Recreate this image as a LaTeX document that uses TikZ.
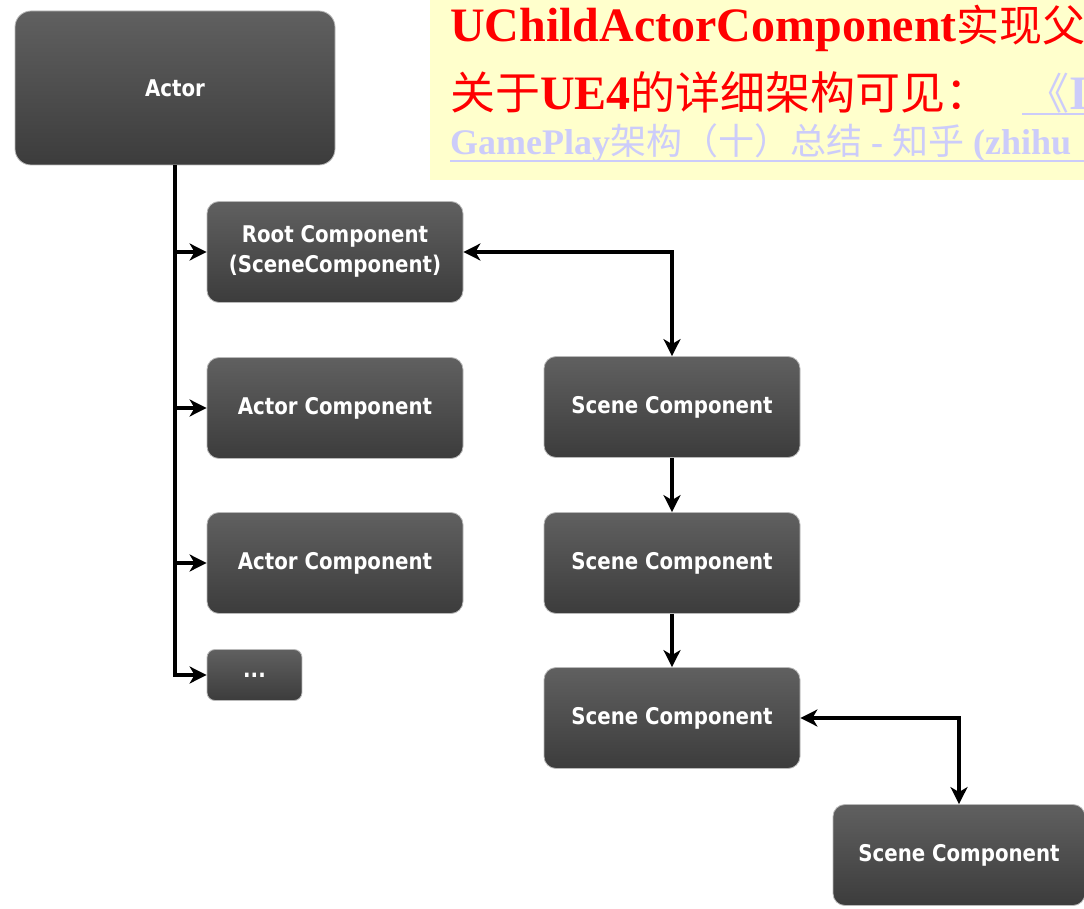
\documentclass[tikz,border=0pt]{standalone}
\usepackage{fontspec}
\setmainfont{Liberation Serif}
\newfontfamily\cjk{Noto Sans CJK SC}
\newfontfamily\lblfont{DejaVu Sans}
\usetikzlibrary{arrows.meta}
\definecolor{boxtop}{RGB}{96,96,96}
\definecolor{boxbot}{RGB}{60,60,60}
\definecolor{notebg}{RGB}{255,255,204}
\definecolor{linkc}{RGB}{204,204,250}
\definecolor{redtxt}{RGB}{255,0,0}
\newcommand\sqz[1]{\scalebox{0.86}[1]{#1}}
\newcommand\cjkA{\cjk\mdseries\fontsize{43}{43}\selectfont}
\newcommand\cjkC{\cjk\mdseries\fontsize{45}{45}\selectfont}
\newcommand\cjkB{\cjk\mdseries\fontsize{36}{36}\selectfont}
\begin{document}
\begin{tikzpicture}[x=1pt,y=-1pt,
  comp/.style={rectangle, rounded corners=12pt, top color=boxtop, bottom color=boxbot,
    draw=gray!55, line width=0.8pt, text=white,
    font=\lblfont\bfseries\fontsize{23}{30}\selectfont, inner sep=0pt, align=center,
    minimum width=256pt, minimum height=101pt},
  tip/.tip={Stealth[length=17pt,width=17pt,inset=5pt]},
  arr/.style={line width=3.4pt, -tip},
  arrr/.style={line width=3.4pt, tip-tip},
  txt/.style={anchor=base west, inner sep=0pt}]
\useasboundingbox (0,0) rectangle (1084,909);
\fill[white] (0,0) rectangle (1084,909);

% note box
\fill[notebg] (430,0) rectangle (1084,180);
\node[txt, text=redtxt] (l1) at (450,42)
  {\fontsize{48}{48}\selectfont\bfseries UChildActorComponent{\cjkA 实现父}};
\node[txt, text=redtxt] (l2) at (450,110)
  {\fontsize{48}{48}\selectfont\bfseries {\cjkC 关于}UE4{\cjkC 的详细架构可见：}};
\node[txt, text=linkc] (l2b) at (1026,110)
  {\fontsize{48}{48}\selectfont\bfseries {\cjkA 《}I};
\node[txt, text=linkc] (l3) at (450,155)
  {\fontsize{36}{36}\selectfont\bfseries GamePlay{\cjkB 架构（十）总结} - {\cjkB 知乎} (zhihu};
\draw[linkc, line width=2pt] (1022,114) -- (1084,114);
\draw[linkc, line width=2pt] (450,161) -- (1084,161);

% nodes
\node[comp, minimum width=320pt, minimum height=154pt, rounded corners=16pt] (actor) at (175,88) {\sqz{Actor}};
\node[comp] (root) at (335,252) {\sqz{\begin{tabular}{@{}c@{}}Root Component\\(SceneComponent)\end{tabular}}};
\node[comp] (ac1) at (335,408) {\sqz{Actor Component}};
\node[comp] (ac2) at (335,563) {\sqz{Actor Component}};
\node[comp, minimum width=95pt, minimum height=51pt, rounded corners=8pt] (dots) at (254.5,675) {\sqz{...}};
\node[comp] (sc1) at (672,407) {\sqz{Scene Component}};
\node[comp] (sc2) at (672,563) {\sqz{Scene Component}};
\node[comp] (sc3) at (672,718) {\sqz{Scene Component}};
\node[comp, minimum width=252pt] (sc4) at (959,855) {\sqz{Scene Component}};

% connectors
\draw[line width=3.4pt] (actor.south) -- ([yshift=-1.7pt]actor.south |- dots.west);
\draw[arr] (actor.south |- root.west) -- (root.west);
\draw[arr] (actor.south |- ac1.west) -- (ac1.west);
\draw[arr] (actor.south |- ac2.west) -- (ac2.west);
\draw[arr] ([xshift=-1.7pt]actor.south |- dots.west) -- (dots.west);
\draw[arrr] (root.east) -| (sc1.north);
\draw[arr] (sc1.south) -- (sc2.north);
\draw[arr] (sc2.south) -- (sc3.north);
\draw[arrr] (sc3.east) -| (sc4.north);
\end{tikzpicture}
\end{document}
